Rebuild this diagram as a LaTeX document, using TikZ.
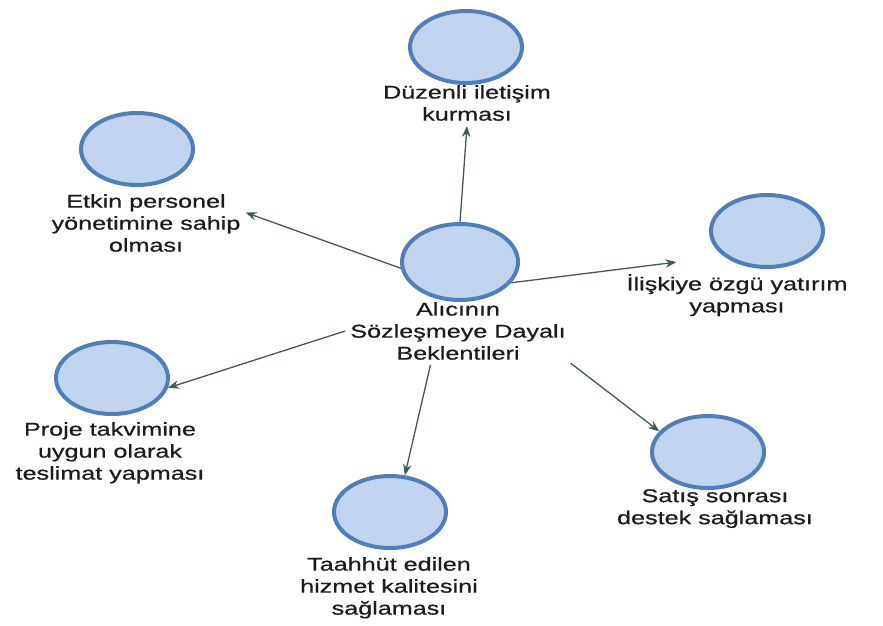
\documentclass[tikz,border=0pt]{standalone}
\usepackage{fontspec}
\setmainfont[FakeStretch=1.36,FakeBold=0.7]{Liberation Sans}
\usetikzlibrary{arrows.meta,calc,shapes.geometric}
\definecolor{bubblefill}{RGB}{193,213,240}
\definecolor{bubbleline}{RGB}{80,126,186}
\definecolor{linkcol}{RGB}{68,88,88}
\definecolor{labelcol}{RGB}{28,28,28}
\begin{document}
\begin{tikzpicture}[x=1pt,y=-1pt,
  bubble/.style={ellipse, draw=bubbleline, fill=bubblefill, line width=4pt,
    minimum width=112pt, minimum height=72pt, inner sep=0pt},
  bigbubble/.style={bubble, minimum width=116pt, minimum height=76pt},
  caption/.style={anchor=north, align=center, inner sep=5pt, text=labelcol,
    font={\fontsize{18.5}{22}\selectfont},
    execute at begin node={\rule{0pt}{17pt}}},
  link/.style={draw=linkcol, line width=1.3pt, -{Stealth[length=11pt,width=8.5pt]}}
]
\useasboundingbox (0,0) rectangle (883,625);

% bubbles
\node[bigbubble] (c) at (460,262) {};
\node[bubble] (d) at (466,47) {};
\node[bubble] (e) at (137,149) {};
\node[bubble] (i) at (767,231) {};
\node[bubble] (p) at (112,378) {};
\node[bubble] (t) at (390,512) {};
\node[bubble] (s) at (708,452) {};

% captions (placed by the top of the first line)
\node[caption] (cl) at (458,297) {Alıcının\\Sözleşmeye Dayalı\\Beklentileri};
\node[caption] (dl) at (467,80) {Düzenli iletişim\\kurması};
\node[caption] (el) at (146,189) {Etkin personel\\yönetimine sahip\\olması};
\node[caption] (il) at (737,269) {İlişkiye özgü yatırım\\yapması};
\node[caption] (pl) at (110,417) {Proje takvimine\\uygun olarak\\teslimat yapması};
\node[caption] (tl) at (389,552) {Taahhüt edilen\\hizmet kalitesini\\sağlaması};
\node[caption] (sl) at (715,484) {Satış sonrası\\destek sağlaması};

% links from the central expectation
\draw[link] (c.north) -- (dl.south);
\draw[link] (c.186) -- (el.6);
\draw[link] (c.-22) -- ($(c.-22)!1.5!(il.north west)$);
\draw[link] (cl.west) -- (p.-10);
\draw[link] (cl.231) -- (t.68);
\draw[link] (cl.-16) -- (s.157);
\end{tikzpicture}
\end{document}
